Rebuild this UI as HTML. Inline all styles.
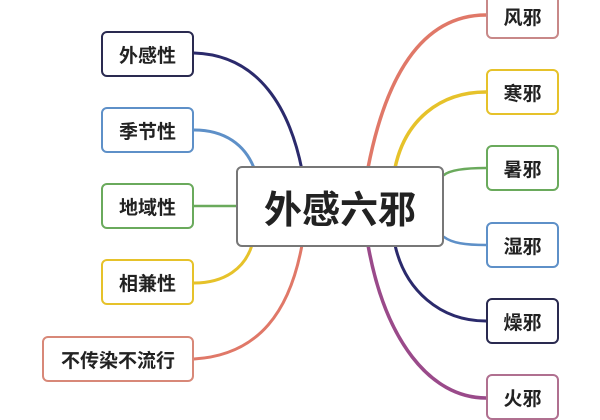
<!DOCTYPE html>
<html><head><meta charset="utf-8"><style>
body{margin:0;background:#fff;width:600px;height:400px;overflow:hidden;position:relative;font-family:"Liberation Sans","Noto Sans CJK SC",sans-serif}
.b{position:absolute;background:#fff;border:2px solid;border-radius:6px;box-sizing:border-box;display:flex;align-items:center;justify-content:center;font-size:19px;font-weight:bold;color:#222}
svg{position:absolute;left:0;top:0}
</style></head><body>
<svg width="600" height="400" fill="none" stroke-linecap="round">
<path d="M194,53 C260,55 290,110 302,170" stroke="#2b2a6c" stroke-width="3"/>
<path d="M194,130 C225,130 245,145 254,168" stroke="#5e90c8" stroke-width="3"/>
<path d="M194,206 L236,206" stroke="#6aaa5c" stroke-width="2.5"/>
<path d="M194,283 C225,283 245,268 252,245" stroke="#e6c22a" stroke-width="3"/>
<path d="M194,359 C260,355 290,310 302,245" stroke="#e07868" stroke-width="3"/>
<path d="M486,15 C420,15 385,80 368,168" stroke="#e07868" stroke-width="3.5"/>
<path d="M486,92 C440,92 405,120 395,168" stroke="#e6c22a" stroke-width="3.5"/>
<path d="M486,168 C465,168 450,170 444,175" stroke="#6aaa5c" stroke-width="2.5"/>
<path d="M444,237 C452,243 465,245 486,245" stroke="#5e90c8" stroke-width="2.5"/>
<path d="M395,245 C405,290 440,321 486,321" stroke="#2b2a6c" stroke-width="3"/>
<path d="M368,245 C385,340 430,398 486,398" stroke="#9a4a8a" stroke-width="3.5"/>
</svg>
<div class="b" style="left:236px;top:166px;width:208px;height:81px;border-color:#777;font-size:38px">外感六邪</div>
<div class="b" style="left:101px;top:31px;width:93px;height:46px;border-color:#2a2a50">外感性</div>
<div class="b" style="left:101px;top:107px;width:93px;height:46px;border-color:#5e90c8">季节性</div>
<div class="b" style="left:101px;top:183px;width:93px;height:46px;border-color:#6aaa5c">地域性</div>
<div class="b" style="left:101px;top:259px;width:93px;height:46px;border-color:#e6c22a">相兼性</div>
<div class="b" style="left:42px;top:336px;width:152px;height:46px;border-color:#d88878">不传染不流行</div>
<div class="b" style="left:486px;top:-6px;width:73px;height:45px;border-color:#c88888">风邪</div>
<div class="b" style="left:486px;top:69px;width:73px;height:46px;border-color:#e6c22a">寒邪</div>
<div class="b" style="left:486px;top:145px;width:73px;height:46px;border-color:#6aaa5c">暑邪</div>
<div class="b" style="left:486px;top:222px;width:73px;height:46px;border-color:#5e90c8">湿邪</div>
<div class="b" style="left:486px;top:298px;width:73px;height:46px;border-color:#2a2a50">燥邪</div>
<div class="b" style="left:486px;top:374px;width:73px;height:46px;border-color:#b07090">火邪</div>
</body></html>
